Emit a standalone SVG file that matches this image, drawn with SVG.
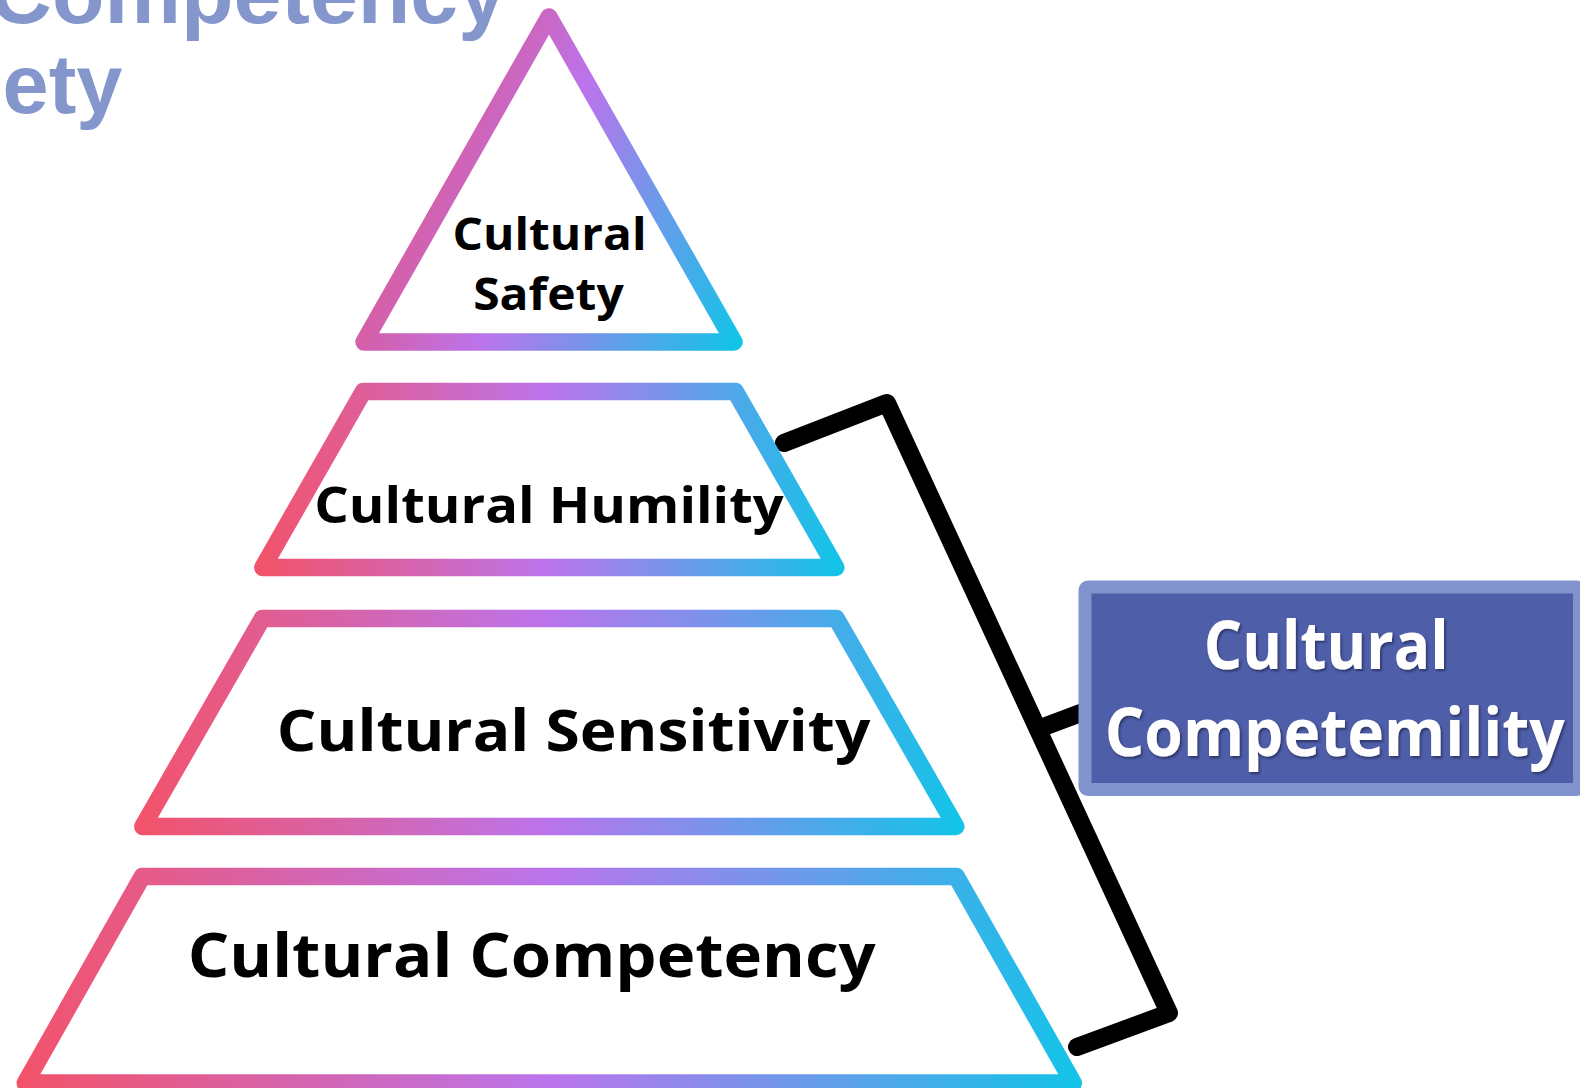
<svg xmlns="http://www.w3.org/2000/svg" width="1580" height="1088" viewBox="0 0 1580 1088">
  <defs>
    <!-- tier outline gradient: red-pink to violet to cyan -->
    <linearGradient id="tierGrad" x1="0" y1="0" x2="1" y2="0">
      <stop offset="0" stop-color="#f2536b"/>
      <stop offset="0.5" stop-color="#bb74ec"/>
      <stop offset="1" stop-color="#14c3e8"/>
    </linearGradient>
    <!-- apex gradient runs on a slant -->
    <linearGradient id="apexGrad" gradientUnits="userSpaceOnUse" x1="364" y1="342" x2="681" y2="471">
      <stop offset="0" stop-color="#d55fa8"/>
      <stop offset="0.32" stop-color="#bb74ec"/>
      <stop offset="1" stop-color="#14c3e8"/>
    </linearGradient>
    <filter id="txtShadow" x="-10%" y="-20%" width="120%" height="140%">
      <feDropShadow dx="1.5" dy="2" stdDeviation="1.2" flood-color="#1b2150" flood-opacity="0.7"/>
    </filter>
    <style>
      .tier { fill: #ffffff; stroke-width: 17.5; stroke-linejoin: round; }
      .tierText { font-family: "Open Sans", "DejaVu Sans", sans-serif; font-weight: 700; fill: #000000; }
      .bracket { fill: none; stroke: #000000; stroke-width: 18; stroke-linejoin: round; stroke-linecap: round; }
      .title { font-family: "Liberation Sans", Arial, sans-serif; font-weight: 700; fill: #8596cc; }
      .boxText { font-family: "Open Sans", "DejaVu Sans", sans-serif; font-weight: 700; font-size: 66px; fill: #ffffff; }
    </style>
  </defs>

  <rect x="0" y="0" width="1580" height="1088" fill="#ffffff"/>

  <!-- heading, partly outside the canvas -->
  <g id="heading">
    <text class="title" font-size="86" x="506" y="23" text-anchor="end">Competency</text>
    <text class="title" font-size="83" x="2.5" y="113">ety</text>
  </g>

  <!-- connectors: bracket spanning the lower three tiers -->
  <g id="connectors">
    <polyline class="bracket" points="784,443 887,403 1169,1013 1077,1047"/>
    <line class="bracket" x1="1038" y1="729" x2="1086" y2="711"/>
  </g>

  <!-- tier 1: apex -->
  <g id="tier-safety">
    <path class="tier" stroke="url(#apexGrad)" d="M549,17 L734,342 L364,342 Z"/>
    <text class="tierText" font-size="45" x="452.5" y="250" textLength="194" lengthAdjust="spacingAndGlyphs">Cultural</text>
    <text class="tierText" font-size="45" x="473.2" y="310" textLength="150.5" lengthAdjust="spacingAndGlyphs">Safety</text>
  </g>

  <!-- tier 2 -->
  <g id="tier-humility">
    <path class="tier" stroke="url(#tierGrad)" d="M363.3,391.5 L735.3,391.5 L835.8,567.5 L262.8,567.5 Z"/>
    <text class="tierText" font-size="50" x="314.2" y="523" textLength="469.5" lengthAdjust="spacingAndGlyphs">Cultural Humility</text>
  </g>

  <!-- tier 3 -->
  <g id="tier-sensitivity">
    <path class="tier" stroke="url(#tierGrad)" d="M262.3,618.5 L836.3,618.5 L955.8,826.5 L142.8,826.5 Z"/>
    <text class="tierText" font-size="58" x="276.8" y="751" textLength="593.5" lengthAdjust="spacingAndGlyphs">Cultural Sensitivity</text>
  </g>

  <!-- tier 4: base -->
  <g id="tier-competency">
    <path class="tier" stroke="url(#tierGrad)" d="M142.3,876.5 L956.3,876.5 L1073.3,1083 L25.3,1083 Z"/>
    <text class="tierText" font-size="60" x="187.7" y="977" textLength="688" lengthAdjust="spacingAndGlyphs">Cultural Competency</text>
  </g>

  <!-- label box -->
  <g id="competemility-box">
    <rect x="1085" y="587" width="494.5" height="202.5" rx="3" fill="#4f5ea8" stroke="#8193cc" stroke-width="13"/>
    <g filter="url(#txtShadow)">
      <text class="boxText" x="1203.7" y="669" textLength="245" lengthAdjust="spacingAndGlyphs">Cultural</text>
      <text class="boxText" x="1104.7" y="756" textLength="460" lengthAdjust="spacingAndGlyphs">Competemility</text>
    </g>
  </g>
</svg>
